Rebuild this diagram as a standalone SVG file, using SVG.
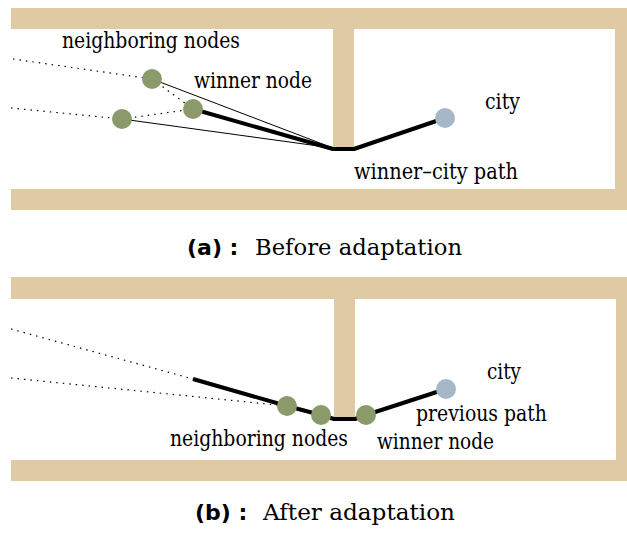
<svg xmlns="http://www.w3.org/2000/svg" width="627" height="538" viewBox="0 0 627 538">
<style>
.wall{fill:#dfcaa4}
.nb{fill:#8b9a6b}
.city{fill:#a6b8c8}
.lbl{font-family:'DejaVu Serif',serif;font-size:23px;fill:#000}
.cap{font-family:'DejaVu Sans',sans-serif;font-weight:bold;font-size:22px;fill:#000}
.capt{font-family:'DejaVu Serif',serif;font-size:23px;fill:#000}
.dot{stroke:#000;stroke-width:1.2;stroke-dasharray:1.5 5;fill:none}
.thin{stroke:#000;stroke-width:1;fill:none}
.thick{stroke:#000;stroke-width:4;fill:none;stroke-linejoin:round}
</style>
<rect width="627" height="538" fill="#fff"/>
<g id="walls-a">
<rect class="wall" x="11" y="8" width="616" height="21"/>
<rect class="wall" x="11" y="189" width="616" height="21"/>
<rect class="wall" x="615" y="8" width="12" height="202"/>
<rect class="wall" x="333" y="29" width="21" height="119"/>
</g>
<g id="walls-b">
<rect class="wall" x="11" y="277" width="616" height="22"/>
<rect class="wall" x="11" y="460" width="616" height="21"/>
<rect class="wall" x="616" y="277" width="11" height="204"/>
<rect class="wall" x="334" y="299" width="21" height="120"/>
</g>
<g id="connectors">
<line class="dot" x1="13" y1="59" x2="152" y2="79"/>
<line class="dot" x1="11" y1="108" x2="122" y2="119"/>
<line class="dot" x1="152" y1="79" x2="193" y2="109"/>
<line class="dot" x1="122" y1="119" x2="193" y2="109"/>
<line class="thin" x1="152" y1="79" x2="333" y2="148"/>
<line class="thin" x1="122" y1="119" x2="333" y2="148"/>
<polyline class="thick" points="193,109 333,149 354,149 445,118"/>
<line class="dot" x1="11" y1="329" x2="193" y2="379"/>
<line class="dot" x1="11" y1="378" x2="287" y2="406"/>
<polyline class="thick" points="193,379 287,406 321,415 334,419 355,419 366,415 446,389"/>
</g>
<g id="node-a-neighbor1"><circle class="nb" cx="152" cy="79" r="10"/></g>
<g id="node-a-winner"><circle class="nb" cx="193" cy="109" r="10"/></g>
<g id="node-a-neighbor2"><circle class="nb" cx="122" cy="119" r="10"/></g>
<g id="node-a-city"><circle class="city" cx="445" cy="118" r="10"/></g>
<g id="node-b-neighbor1"><circle class="nb" cx="287" cy="406" r="10"/></g>
<g id="node-b-neighbor2"><circle class="nb" cx="321" cy="415" r="10"/></g>
<g id="node-b-winner"><circle class="nb" cx="366" cy="415" r="10"/></g>
<g id="node-b-city"><circle class="city" cx="446" cy="389" r="10"/></g>
<g id="labels-a">
<text class="lbl" x="62" y="48" textLength="178" lengthAdjust="spacingAndGlyphs">neighboring nodes</text>
<text class="lbl" x="194" y="88" textLength="118" lengthAdjust="spacingAndGlyphs">winner node</text>
<text class="lbl" x="485" y="109" textLength="35" lengthAdjust="spacingAndGlyphs">city</text>
<text class="lbl" x="354" y="179" textLength="164" lengthAdjust="spacingAndGlyphs">winner–city path</text>
</g>
<g id="labels-b">
<text class="lbl" x="170" y="446" textLength="178" lengthAdjust="spacingAndGlyphs">neighboring nodes</text>
<text class="lbl" x="487" y="379" textLength="34" lengthAdjust="spacingAndGlyphs">city</text>
<text class="lbl" x="416" y="421" textLength="131" lengthAdjust="spacingAndGlyphs">previous path</text>
<text class="lbl" x="377" y="449" textLength="117" lengthAdjust="spacingAndGlyphs">winner node</text>
</g>
<g id="captions">
<text class="cap" x="187" y="255">(a) :</text>
<text class="capt" x="255" y="255" textLength="207" lengthAdjust="spacingAndGlyphs">Before adaptation</text>
<text class="cap" x="195" y="520">(b) :</text>
<text class="capt" x="263" y="520" textLength="192" lengthAdjust="spacingAndGlyphs">After adaptation</text>
</g>
</svg>
